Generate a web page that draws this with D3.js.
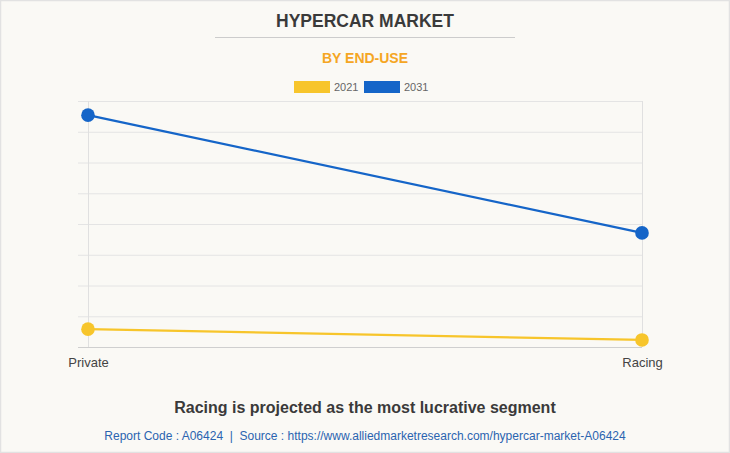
<!DOCTYPE html>
<html><head><meta charset="utf-8">
<script src="https://cdn.jsdelivr.net/npm/d3@7"></script>
<style>
html,body{margin:0;padding:0;background:#fff;}
svg{display:block;}
</style></head>
<body>
<svg id="chart" width="730" height="453"></svg>
<script>
const categories = ["Private", "Racing"];
const seriesNames = ["2021", "2031"];
const values2021 = [0.58, 0.23];
const values2031 = [7.54, 3.71];
const colors = ["#f7c52b", "#1565c8"];
const yTicks = [0,1,2,3,4,5,6,7,8];

const svg = d3.select("#chart");
const W = 730, H = 453;
svg.append("rect").attr("x",0.5).attr("y",0.5).attr("width",W-1).attr("height",H-1)
  .attr("fill","#faf9f5").attr("stroke","#e2e2e2").attr("stroke-width",1.5);

svg.append("text").attr("x",365).attr("y",27).attr("text-anchor","middle")
  .attr("font-family","Arial, 'Liberation Sans', sans-serif").attr("font-weight","bold")
  .attr("font-size",17.5).attr("fill","#3a3a3a").text("HYPERCAR MARKET");
svg.append("line").attr("x1",215).attr("x2",515).attr("y1",37.5).attr("y2",37.5)
  .attr("stroke","#cccccc").attr("stroke-width",1);
svg.append("text").attr("x",365).attr("y",63).attr("text-anchor","middle")
  .attr("font-family","Arial, 'Liberation Sans', sans-serif").attr("font-weight","bold")
  .attr("font-size",14).attr("fill","#f5a623").text("BY END-USE");

// legend
const leg = svg.append("g");
const legX = [294, 364];
seriesNames.forEach((s,i)=>{
  leg.append("rect").attr("x",legX[i]).attr("y",81).attr("width",36).attr("height",12)
    .attr("fill",colors[i]);
  leg.append("text").attr("x",legX[i]+40).attr("y",91)
    .attr("font-family","Arial, 'Liberation Sans', sans-serif").attr("font-size",11)
    .attr("fill","#666").text(s);
});

const x = d3.scalePoint().domain(categories).range([88, 642]);
const y = d3.scaleLinear().domain([0, 8]).range([347, 101]);

const g = svg.append("g");
// horizontal grid
g.append("g").attr("transform","translate(642,0)")
  .call(d3.axisLeft(y).tickValues(yTicks).tickSize(564).tickFormat(""))
  .call(a=>a.select(".domain").remove())
  .call(a=>a.selectAll(".tick line").attr("stroke",(d)=>d===0?"#cfcfcf":"#e4e4e4").attr("stroke-width",1));
// vertical grid
g.append("g").attr("transform","translate(0,347)")
  .call(d3.axisBottom(x).tickSize(-246).tickPadding(8))
  .call(a=>a.select(".domain").remove())
  .call(a=>a.selectAll(".tick line").attr("stroke","#e0e0e0"))
  .call(a=>a.selectAll(".tick text").attr("font-family","Arial, 'Liberation Sans', sans-serif")
    .attr("font-size",13).attr("fill","#444").attr("dy","0.9em"));

const series = [values2021, values2031];
series.forEach((vals,i)=>{
  const data = categories.map((c,j)=>({c, v: vals[j]}));
  g.append("path").datum(data)
    .attr("fill","none").attr("stroke",colors[i]).attr("stroke-width",2.2)
    .attr("d", d3.line().x(d=>x(d.c)).y(d=>y(d.v)));
  g.selectAll(null).data(data).enter().append("circle")
    .attr("cx",d=>x(d.c)).attr("cy",d=>y(d.v)).attr("r",6.8).attr("fill",colors[i]);
});

svg.append("text").attr("x",365).attr("y",413).attr("text-anchor","middle")
  .attr("font-family","Arial, 'Liberation Sans', sans-serif").attr("font-weight","bold")
  .attr("font-size",16).attr("fill","#3a3a3a").text("Racing is projected as the most lucrative segment");
svg.append("text").attr("x",365).attr("y",440).attr("text-anchor","middle")
  .attr("font-family","Arial, 'Liberation Sans', sans-serif")
  .attr("font-size",12).attr("fill","#2a64b0").style("white-space","pre")
  .text("Report Code : A06424  |  Source : https://www.alliedmarketresearch.com/hypercar-market-A06424");
</script>
</body></html>
